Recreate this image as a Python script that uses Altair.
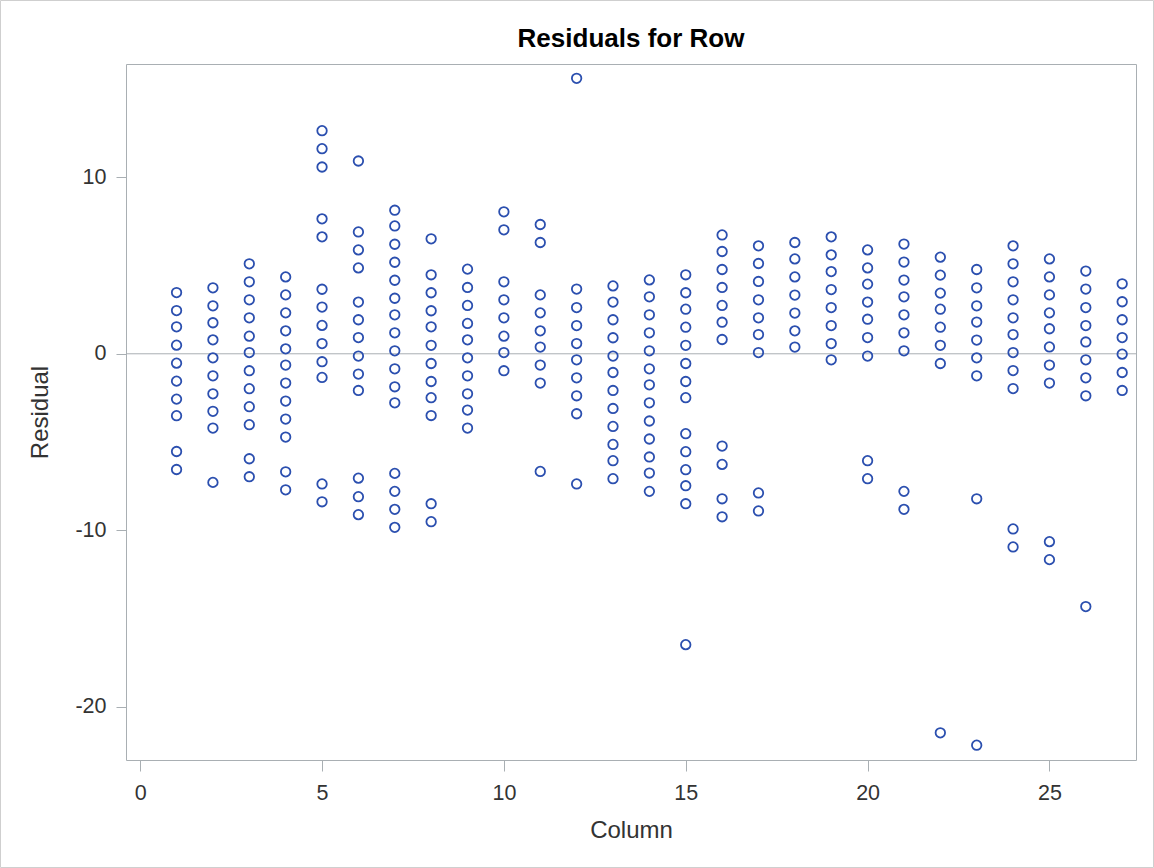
import altair as alt
import pandas as pd

# Residual values, one list per column (1..27)
col01 = [3.47, 2.45, 1.53, 0.49, -0.53, -1.55, -2.57, -3.51, -5.54, -6.56]
col02 = [3.74, 2.72, 1.76, 0.79, -0.23, -1.25, -2.27, -3.26, -4.21, -7.29]
col03 = [5.10, 4.08, 3.06, 2.04, 1.00, 0.07, -0.96, -1.98, -3.00, -4.02, -5.95, -6.97]
col04 = [4.36, 3.34, 2.32, 1.30, 0.28, -0.64, -1.66, -2.68, -3.70, -4.72, -6.69, -7.71]
col05 = [12.65, 11.63, 10.59, 7.65, 6.63, 3.66, 2.65, 1.61, 0.58, -0.45, -1.34, -7.38, -8.39]
col06 = [10.93, 6.91, 5.89, 4.87, 2.93, 1.93, 0.92, -0.13, -1.15, -2.08, -7.05, -8.10, -9.12]
col07 = [8.14, 7.25, 6.21, 5.19, 4.17, 3.15, 2.21, 1.19, 0.17, -0.85, -1.87, -2.78,
         -6.78, -7.80, -8.82, -9.84]
col08 = [6.52, 4.48, 3.46, 2.44, 1.53, 0.48, -0.55, -1.57, -2.49, -3.50, -8.50, -9.52]
col09 = [4.80, 3.76, 2.74, 1.72, 0.79, -0.23, -1.25, -2.27, -3.19, -4.21]
col10 = [8.05, 7.03, 4.08, 3.06, 2.04, 1.00, 0.07, -0.96]
col11 = [7.33, 6.31, 3.34, 2.32, 1.30, 0.38, -0.64, -1.66, -6.67]
col12 = [15.62, 3.67, 2.62, 1.60, 0.58, -0.34, -1.36, -2.38, -3.40, -7.38]
col13 = [3.85, 2.93, 1.93, 0.91, -0.13, -1.06, -2.08, -3.10, -4.12, -5.14, -6.06, -7.08]
col14 = [4.19, 3.23, 2.21, 1.19, 0.17, -0.85, -1.76, -2.78, -3.81, -4.83, -5.85, -6.76, -7.80]
col15 = [4.48, 3.46, 2.53, 1.51, 0.48, -0.55, -1.57, -2.49, -4.53, -5.55, -6.57, -7.48,
         -8.50, -16.49]
col16 = [6.74, 5.80, 4.78, 3.76, 2.74, 1.79, 0.81, -5.23, -6.27, -8.22, -9.24]
col17 = [6.12, 5.12, 4.10, 3.06, 2.04, 1.09, 0.07, -7.89, -8.91]
col18 = [6.31, 5.38, 4.36, 3.33, 2.31, 1.30, 0.38]
col19 = [6.63, 5.61, 4.66, 3.64, 2.62, 1.60, 0.58, -0.34]
col20 = [5.89, 4.87, 3.95, 2.93, 1.96, 0.92, -0.13, -6.06, -7.08]
col21 = [6.22, 5.20, 4.18, 3.23, 2.21, 1.19, 0.17, -7.80, -8.82]
col22 = [5.48, 4.46, 3.44, 2.53, 1.51, 0.48, -0.55, -21.49]
col23 = [4.78, 3.74, 2.72, 1.80, 0.78, -0.23, -1.25, -8.22, -22.19]
col24 = [6.12, 5.10, 4.08, 3.06, 2.04, 1.09, 0.07, -0.95, -1.97, -9.93, -10.95]
col25 = [5.38, 4.36, 3.34, 2.32, 1.42, 0.39, -0.64, -1.66, -10.65, -11.67]
col26 = [4.69, 3.67, 2.62, 1.60, 0.67, -0.34, -1.36, -2.38, -14.33]
col27 = [3.97, 2.95, 1.93, 0.92, -0.02, -1.06, -2.08]

all_cols = [col01, col02, col03, col04, col05, col06, col07, col08, col09, col10,
            col11, col12, col13, col14, col15, col16, col17, col18, col19, col20,
            col21, col22, col23, col24, col25, col26, col27]

x_ticks = [0, 5, 10, 15, 20, 25]
y_ticks = [-20, -10, 0, 10]
chart_title = "Residuals for Row"

rows = []
for i, vals in enumerate(all_cols, start=1):
    for v in vals:
        rows.append({"Column": i, "Residual": v})
df = pd.DataFrame(rows)

AXIS_GRAY = "#a9afb3"
TEXT = "#333333"
FONT = "Liberation Sans"
W, H = 1010, 696

xscale = alt.Scale(domain=[-0.39, 27.38], nice=False, zero=False)
yscale = alt.Scale(domain=[-23.03, 16.43], nice=False, zero=False)

points = alt.Chart(df).mark_point(
    shape="circle", filled=False, size=90, strokeWidth=1.8,
    color="#2B4FAF", opacity=1
).encode(
    x=alt.X("Column:Q", scale=xscale,
            axis=alt.Axis(values=x_ticks, title="Column", grid=False, domain=False,
                          tickSize=11, tickColor=AXIS_GRAY, tickWidth=1,
                          labelFontSize=21.5, labelColor=TEXT, labelFont=FONT,
                          labelPadding=11, titleFont=FONT, titleFontSize=24,
                          titleFontWeight="normal", titleColor=TEXT, titlePadding=15,
                          labelExpr="'' + datum.value")),
    y=alt.Y("Residual:Q", scale=yscale,
            axis=alt.Axis(values=y_ticks, title="Residual", grid=False, domain=False,
                          tickSize=10, tickColor=AXIS_GRAY, tickWidth=1,
                          labelFontSize=21.5, labelColor=TEXT, labelFont=FONT,
                          labelPadding=10, titleFont=FONT, titleFontSize=24,
                          titleFontWeight="normal", titleColor=TEXT, titlePadding=22,
                          labelExpr="'' + datum.value")),
)

zero = alt.Chart(pd.DataFrame({"y": [0]})).mark_rule(
    color=AXIS_GRAY, strokeWidth=1
).encode(y=alt.Y("y:Q", scale=yscale))

border = alt.Chart(pd.DataFrame({"a": [0]})).mark_rect(
    fill="transparent", stroke="#cfcfcf", strokeWidth=1
).encode(
    x=alt.value(-125.5), x2=alt.value(1027.5),
    y=alt.value(-63.5), y2=alt.value(803.5)
)

title = alt.Chart(pd.DataFrame({"t": [chart_title]})).mark_text(
    font=FONT, fontSize=26, fontWeight="bold", color="#000000",
    align="center", baseline="alphabetic"
).encode(text="t:N", x=alt.value(W / 2), y=alt.value(-17.3))

chart = alt.layer(border, zero, points, title).properties(
    width=W, height=H, padding=0, background="white"
).configure_view(stroke=AXIS_GRAY, strokeWidth=1)

chart.save("out.html", embed_options={"renderer": "svg", "actions": False})
